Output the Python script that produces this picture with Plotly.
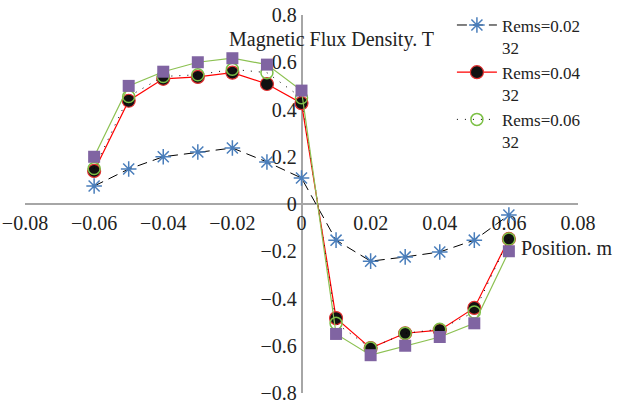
import plotly.graph_objects as go

positions = [-0.06, -0.05, -0.04, -0.03, -0.02, -0.01, 0.0, 0.01, 0.02, 0.03, 0.04, 0.05, 0.06]
rems_002 = [0.076, 0.148, 0.20, 0.22, 0.237, 0.178, 0.11, -0.153, -0.242, -0.224, -0.203, -0.153, -0.047]
rems_004 = [0.14, 0.437, 0.53, 0.538, 0.556, 0.508, 0.427, -0.483, -0.61, -0.547, -0.534, -0.44, -0.148]
rems_006 = [0.15, 0.455, 0.54, 0.547, 0.57, 0.556, 0.45, -0.505, -0.61, -0.547, -0.53, -0.457, -0.148]
series_4 = [0.20, 0.50, 0.56, 0.60, 0.617, 0.59, 0.48, -0.55, -0.64, -0.60, -0.563, -0.505, -0.20]

names = ["Rems=0.02<br>32", "Rems=0.04<br>32", "Rems=0.06<br>32"]
x_ticks = [-0.08, -0.06, -0.04, -0.02, 0, 0.02, 0.04, 0.06, 0.08]
x_tick_text = ["\u22120.08", "\u22120.06", "\u22120.04", "\u22120.02", "0", "0.02", "0.04", "0.06", "0.08"]
y_ticks = [-0.8, -0.6, -0.4, -0.2, 0, 0.2, 0.4, 0.6, 0.8]
y_tick_text = ["\u22120.8", "\u22120.6", "\u22120.4", "\u22120.2", "0", "0.2", "0.4", "0.6", "0.8"]

FONT = "Liberation Serif"
TXT = "#222222"

fig = go.Figure()
fig.add_trace(go.Scatter(
    x=positions, y=rems_002, name=names[0], mode="lines+markers",
    line=dict(color="black", width=1, dash="10px,6px"),
    marker=dict(symbol="asterisk-open", size=13, line=dict(color="#4a7ebb", width=1.5), color="#4a7ebb"),
))
fig.add_trace(go.Scatter(
    x=positions, y=rems_004, name=names[1], mode="lines+markers",
    line=dict(color="#ff0000", width=1.2),
    marker=dict(symbol="circle", size=13, color="#111111", line=dict(color="#e03030", width=1.2)),
))
fig.add_trace(go.Scatter(
    x=positions, y=rems_006, name=names[2], mode="lines+markers",
    line=dict(color="black", width=1, dash="1px,7px"),
    marker=dict(symbol="circle-open", size=12, color="#7cc046", line=dict(color="#7cc046", width=1.5)),
))
fig.add_trace(go.Scatter(
    x=positions, y=series_4, name="", mode="lines+markers", showlegend=False,
    line=dict(color="#8cc152", width=1.2),
    marker=dict(symbol="square", size=12, color="#8064a2", line=dict(width=0)),
))

axis_common = dict(
    showgrid=False, zeroline=False, showline=True, linecolor="#a6a6a6", linewidth=1.5,
    ticks="", layer="below traces", automargin=False, ticklabeloverflow="allow",
    tickfont=dict(family=FONT, size=20, color=TXT),
)

fig.update_layout(
    width=623, height=404,
    margin=dict(l=25, r=45, t=15, b=11, autoexpand=False),
    paper_bgcolor="white", plot_bgcolor="white",
    xaxis=dict(range=[-0.08, 0.08], tickvals=x_ticks, ticktext=x_tick_text,
               anchor="free", position=0.5, side="bottom", ticklabelstandoff=1, **axis_common),
    yaxis=dict(range=[-0.8, 0.8], tickvals=y_ticks, ticktext=y_tick_text,
               anchor="free", position=0.5, side="left", ticklabelstandoff=0, **axis_common),
    legend=dict(x=0.772, y=1.02, xanchor="left", yanchor="top", valign="top",
                bgcolor="rgba(0,0,0,0)", font=dict(family=FONT, size=17, color=TXT),
                tracegroupgap=0, itemwidth=40),
    showlegend=True,
    annotations=[
        dict(text="Magnetic Flux Density. T", x=-0.0215, y=0.695, xref="x", yref="y",
             xanchor="left", yanchor="middle", showarrow=False,
             font=dict(family=FONT, size=20, color=TXT)),
        dict(text="Position. m", x=0.063, y=-0.187, xref="x", yref="y",
             xanchor="left", yanchor="middle", showarrow=False,
             font=dict(family=FONT, size=20, color=TXT)),
    ],
)

fig.write_html("out.html", config={"displayModeBar": False},
               post_script="document.body.style.margin='0';")
